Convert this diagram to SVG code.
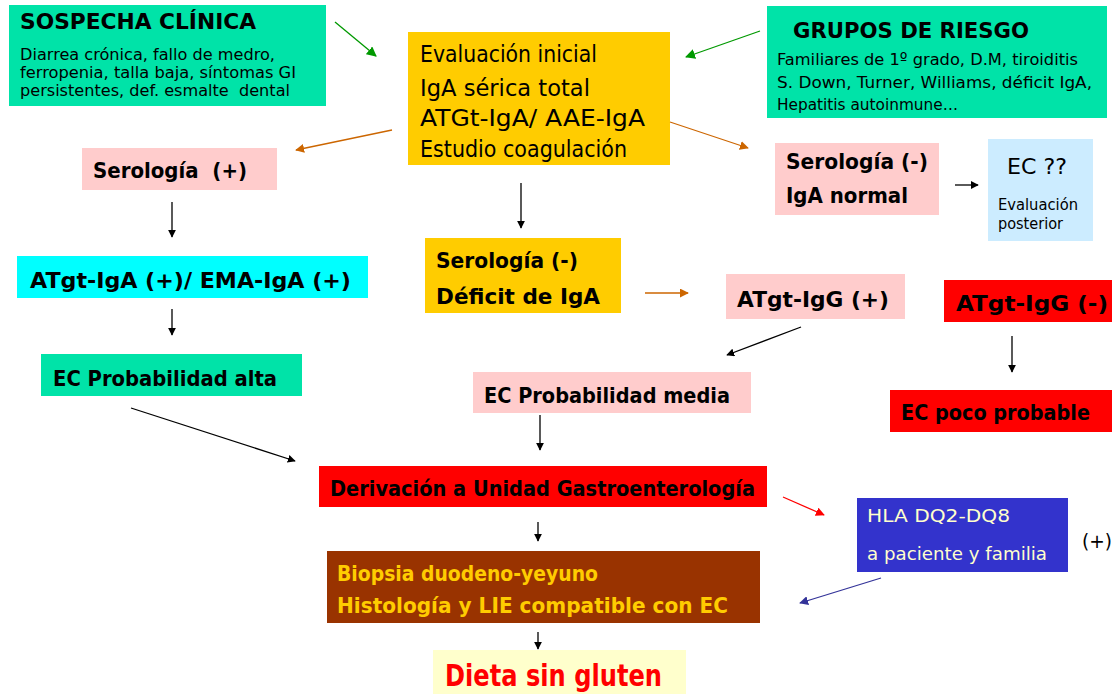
<svg xmlns="http://www.w3.org/2000/svg" width="1114" height="694" viewBox="0 0 1114 694">
<defs>
<style>
text{font-family:"DejaVu Sans","Liberation Sans",sans-serif;fill:#000}
.b{font-weight:bold}
.c{stroke-width:1.3;fill:none}
.k{stroke:#000}
.g{stroke:#009900}
.o{stroke:#CC6600}
.r{stroke:#FF0000}
.u{stroke:#333399}
</style>
<marker id="mk" viewBox="0 0 10 10" refX="9" refY="5" markerWidth="8" markerHeight="8" markerUnits="userSpaceOnUse" orient="auto"><path d="M0,0L10,5L0,10z" fill="#000"/></marker>
<marker id="mg" viewBox="0 0 10 10" refX="9" refY="5" markerWidth="10" markerHeight="10" markerUnits="userSpaceOnUse" orient="auto"><path d="M0,0L10,5L0,10z" fill="#009900"/></marker>
<marker id="mo" viewBox="0 0 10 10" refX="9" refY="5" markerWidth="9" markerHeight="9" markerUnits="userSpaceOnUse" orient="auto"><path d="M0,0L10,5L0,10z" fill="#CC6600"/></marker>
<marker id="mr" viewBox="0 0 10 10" refX="9" refY="5" markerWidth="9" markerHeight="9" markerUnits="userSpaceOnUse" orient="auto"><path d="M0,0L10,5L0,10z" fill="#FF0000"/></marker>
<marker id="mu" viewBox="0 0 10 10" refX="9" refY="5" markerWidth="9" markerHeight="9" markerUnits="userSpaceOnUse" orient="auto"><path d="M0,0L10,5L0,10z" fill="#333399"/></marker>
</defs>
<rect width="1114" height="694" fill="#fff"/>

<g id="sospecha">
<rect x="9" y="5" width="317" height="101" fill="#00E3A8"/>
<text class="b" x="20" y="29" font-size="22" textLength="236" lengthAdjust="spacingAndGlyphs">SOSPECHA CLÍNICA</text>
<text x="20" y="60" font-size="16.5" textLength="255" lengthAdjust="spacingAndGlyphs">Diarrea crónica, fallo de medro,</text>
<text x="20" y="78" font-size="16.5" textLength="276" lengthAdjust="spacingAndGlyphs">ferropenia, talla baja, síntomas GI</text>
<text x="20" y="96" font-size="16.5" textLength="270" lengthAdjust="spacingAndGlyphs" xml:space="preserve">persistentes, def. esmalte  dental</text>
</g>

<g id="evaluacion">
<rect x="408" y="32" width="262" height="133" fill="#FFCC00"/>
<text x="420" y="62" font-size="23" textLength="177" lengthAdjust="spacingAndGlyphs">Evaluación inicial</text>
<text x="420" y="96" font-size="23" textLength="170" lengthAdjust="spacingAndGlyphs">IgA sérica total</text>
<text x="420" y="126" font-size="23" textLength="225" lengthAdjust="spacingAndGlyphs">ATGt-IgA/ AAE-IgA</text>
<text x="420" y="157" font-size="23" textLength="207" lengthAdjust="spacingAndGlyphs">Estudio coagulación</text>
</g>

<g id="grupos">
<rect x="767" y="6" width="340" height="112" fill="#00E3A8"/>
<text class="b" x="793" y="38" font-size="22" textLength="236" lengthAdjust="spacingAndGlyphs">GRUPOS DE RIESGO</text>
<text x="777" y="65" font-size="16.5" textLength="301" lengthAdjust="spacingAndGlyphs">Familiares de 1º grado, D.M, tiroiditis</text>
<text x="777" y="88" font-size="16.5" textLength="315" lengthAdjust="spacingAndGlyphs">S. Down, Turner, Williams, déficit IgA,</text>
<text x="777" y="110" font-size="16.5" textLength="181" lengthAdjust="spacingAndGlyphs">Hepatitis autoinmune…</text>
</g>

<g id="serologia-pos">
<rect x="82" y="148" width="195" height="42" fill="#FFCCCC"/>
<text class="b" x="93" y="178" font-size="21" textLength="154" lengthAdjust="spacingAndGlyphs" xml:space="preserve">Serología  (+)</text>
</g>

<g id="serologia-neg-normal">
<rect x="775" y="143" width="164" height="72" fill="#FFCCCC"/>
<text class="b" x="786" y="169" font-size="22" textLength="142" lengthAdjust="spacingAndGlyphs">Serología (-)</text>
<text class="b" x="786" y="203" font-size="22" textLength="122" lengthAdjust="spacingAndGlyphs">IgA normal</text>
</g>

<g id="ec-dudosa">
<rect x="988" y="139" width="105" height="102" fill="#CCECFF"/>
<text x="1007" y="174" font-size="22" textLength="60" lengthAdjust="spacingAndGlyphs">EC ??</text>
<text x="998" y="210" font-size="16" textLength="80" lengthAdjust="spacingAndGlyphs">Evaluación</text>
<text x="998" y="229" font-size="16" textLength="65" lengthAdjust="spacingAndGlyphs">posterior</text>
</g>

<g id="atgt-iga-pos">
<rect x="17" y="256" width="351" height="42" fill="#00FFFF"/>
<text class="b" x="30" y="288" font-size="22" textLength="321" lengthAdjust="spacingAndGlyphs">ATgt-IgA (+)/ EMA-IgA (+)</text>
</g>

<g id="ec-alta">
<rect x="41" y="354" width="261" height="42" fill="#00E3A8"/>
<text class="b" x="53" y="386" font-size="22" textLength="224" lengthAdjust="spacingAndGlyphs">EC Probabilidad alta</text>
</g>

<g id="serologia-neg-deficit">
<rect x="425" y="238" width="196" height="75" fill="#FFCC00"/>
<text class="b" x="436" y="268" font-size="21" textLength="142" lengthAdjust="spacingAndGlyphs">Serología (-)</text>
<text class="b" x="436" y="304" font-size="21" textLength="164" lengthAdjust="spacingAndGlyphs">Déficit de IgA</text>
</g>

<g id="atgt-igg-pos">
<rect x="726" y="274" width="179" height="45" fill="#FFCCCC"/>
<text class="b" x="737" y="307" font-size="22" textLength="152" lengthAdjust="spacingAndGlyphs">ATgt-IgG (+)</text>
</g>

<g id="atgt-igg-neg">
<rect x="944" y="280" width="168" height="42" fill="#FF0000"/>
<text class="b" x="956" y="311" font-size="22" textLength="152" lengthAdjust="spacingAndGlyphs">ATgt-IgG (-)</text>
</g>

<g id="ec-media">
<rect x="473" y="372" width="278" height="41" fill="#FFCCCC"/>
<text class="b" x="484" y="403" font-size="22" textLength="246" lengthAdjust="spacingAndGlyphs">EC Probabilidad media</text>
</g>

<g id="ec-poco">
<rect x="890" y="390" width="222" height="42" fill="#FF0000"/>
<text class="b" x="901" y="420" font-size="21" textLength="189" lengthAdjust="spacingAndGlyphs">EC poco probable</text>
</g>

<g id="derivacion">
<rect x="319" y="466" width="448" height="41" fill="#FF0000"/>
<text class="b" x="330" y="496" font-size="21" textLength="425" lengthAdjust="spacingAndGlyphs">Derivación a Unidad Gastroenterología</text>
</g>

<g id="hla">
<rect x="857" y="498" width="211" height="74" fill="#3333CC"/>
<text x="867" y="522" font-size="18.5" style="fill:#FFFFCC" textLength="143" lengthAdjust="spacingAndGlyphs">HLA DQ2-DQ8</text>
<text x="867" y="560" font-size="18.5" style="fill:#FFFFCC" textLength="180" lengthAdjust="spacingAndGlyphs">a paciente y familia</text>
</g>
<text x="1082" y="548" font-size="20" textLength="30" lengthAdjust="spacingAndGlyphs">(+)</text>

<g id="biopsia">
<rect x="327" y="551" width="433" height="72" fill="#993300"/>
<text class="b" x="337" y="581" font-size="21" style="fill:#FFCC00" textLength="261" lengthAdjust="spacingAndGlyphs">Biopsia duodeno-yeyuno</text>
<text class="b" x="337" y="613" font-size="21" style="fill:#FFCC00" textLength="391" lengthAdjust="spacingAndGlyphs">Histología y LIE compatible con EC</text>
</g>

<g id="dieta">
<rect x="433" y="650" width="253" height="44" fill="#FFFFCC"/>
<text class="b" x="445" y="686" font-size="30" style="fill:#FF0000" textLength="217" lengthAdjust="spacingAndGlyphs">Dieta sin gluten</text>
</g>

<g id="connectors">
<line class="c g" x1="335" y1="22" x2="376" y2="56" marker-end="url(#mg)"/>
<line class="c g" x1="760" y1="31" x2="686" y2="57" marker-end="url(#mg)"/>
<line class="c o" x1="392" y1="130" x2="296" y2="150" marker-end="url(#mo)"/>
<line class="c o" x1="670" y1="122" x2="748" y2="148" marker-end="url(#mo)"/>
<line class="c k" x1="521" y1="183" x2="521" y2="228" marker-end="url(#mk)"/>
<line class="c k" x1="955" y1="185" x2="978" y2="185" marker-end="url(#mk)"/>
<line class="c k" x1="172" y1="202" x2="172" y2="237" marker-end="url(#mk)"/>
<line class="c k" x1="172" y1="309" x2="172" y2="335" marker-end="url(#mk)"/>
<line class="c o" x1="645" y1="293" x2="688" y2="293" marker-end="url(#mo)"/>
<line class="c k" x1="801" y1="327" x2="727" y2="355" marker-end="url(#mk)"/>
<line class="c k" x1="1012" y1="336" x2="1012" y2="372" marker-end="url(#mk)"/>
<line class="c k" x1="540" y1="415" x2="540" y2="450" marker-end="url(#mk)"/>
<line class="c k" x1="131" y1="408" x2="295" y2="461" marker-end="url(#mk)"/>
<line class="c k" x1="538" y1="522" x2="538" y2="541" marker-end="url(#mk)"/>
<line class="c k" x1="538" y1="632" x2="538" y2="649" marker-end="url(#mk)"/>
<line class="c r" x1="783" y1="497" x2="824" y2="515" marker-end="url(#mr)"/>
<line class="c u" x1="881" y1="578" x2="800" y2="603" marker-end="url(#mu)"/>
</g>
</svg>
